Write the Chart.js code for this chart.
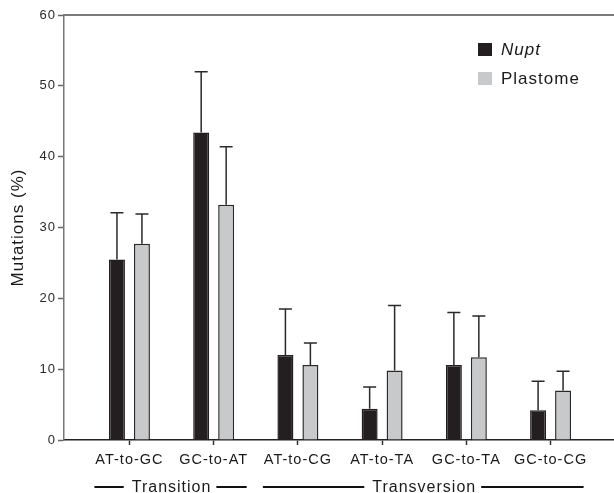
<!DOCTYPE html>
<html>
<head>
<meta charset="utf-8">
<script src="https://cdn.jsdelivr.net/npm/chart.js@4.4.1/dist/chart.umd.min.js"></script>
<style>
  html, body { margin: 0; padding: 0; background: #fff; }
</style>
</head>
<body>
<canvas id="mutationChart" width="614" height="493"></canvas>
<script>
const categories = ["AT-to-GC", "GC-to-AT", "AT-to-CG", "AT-to-TA", "GC-to-TA", "GC-to-CG"];
const nuptValues = [25.5, 43.4, 12.0, 4.4, 10.6, 4.2];
const nuptErrors = [6.6, 8.6, 6.5, 3.1, 7.4, 4.1];
const plastomeValues = [27.7, 33.2, 10.6, 9.8, 11.7, 7.0];
const plastomeErrors = [4.2, 8.2, 3.1, 9.2, 5.8, 2.7];
const yTicks = [0, 10, 20, 30, 40, 50, 60];
const groups = [
    { label: "Transition", from: 0, to: 1 },
    { label: "Transversion", from: 2, to: 5 },
];

const FONT = "'Liberation Sans', Arial, sans-serif";
const toPoints = (vals) => vals.map((v, i) => ({ x: i, y: v }));

// printed-figure text is slightly tracked out
const spacing = {
    id: "spacing",
    beforeDraw: (chart) => { chart.ctx.letterSpacing = "1px"; },
};

const topLine = {
    id: "topLine",
    beforeDatasetsDraw: (chart) => {
        const { ctx, chartArea } = chart;
        ctx.save();
        ctx.strokeStyle = "#7a7a7a";
        ctx.lineWidth = 2;
        ctx.beginPath();
        ctx.moveTo(chartArea.left, chartArea.top);
        ctx.lineTo(chart.width, chartArea.top);
        ctx.stroke();
        ctx.restore();
    },
};

const errorBars = {
    id: "errorBars",
    afterDatasetsDraw: (chart) => {
        const { ctx, scales: { y } } = chart;
        ctx.save();
        ctx.strokeStyle = "#2a2a2a";
        ctx.lineWidth = 1.5;
        chart.data.datasets.forEach((ds, i) => {
            chart.getDatasetMeta(i).data.forEach((bar, j) => {
                const top = y.getPixelForValue(ds.data[j].y + ds.errors[j]);
                ctx.beginPath();
                ctx.moveTo(bar.x, bar.y);
                ctx.lineTo(bar.x, top);
                ctx.moveTo(bar.x - 6.5, top);
                ctx.lineTo(bar.x + 6.5, top);
                ctx.stroke();
            });
        });
        ctx.restore();
    },
};

const extras = {
    id: "extras",
    afterDraw: (chart) => {
        const { ctx, chartArea, scales: { x } } = chart;
        ctx.save();
        // legend
        const lx = chartArea.left + 414;
        chart.data.datasets.forEach((ds, i) => {
            const ly = chartArea.top + 28 + i * 29;
            ctx.fillStyle = ds.backgroundColor;
            ctx.fillRect(lx, ly, 14, 13);
            ctx.fillStyle = "#1a1a1a";
            ctx.font = (i === 0 ? "italic " : "") + "17px " + FONT;
            ctx.textBaseline = "middle";
            ctx.textAlign = "left";
            ctx.fillText(ds.label, lx + 23, ly + 7.5);
        });
        // group labels under the axis
        const gy = chartArea.bottom + 47;
        ctx.font = "16px " + FONT;
        ctx.textAlign = "center";
        ctx.textBaseline = "middle";
        ctx.strokeStyle = "#111";
        ctx.lineWidth = 2;
        groups.forEach((g) => {
            const left = x.getPixelForValue(g.from) - 35;
            const right = x.getPixelForValue(g.to) + 33;
            const mid = (x.getPixelForValue(g.from) + x.getPixelForValue(g.to)) / 2;
            const w = ctx.measureText(g.label).width;
            ctx.fillStyle = "#1a1a1a";
            ctx.fillText(g.label, mid, gy + 1);
            ctx.beginPath();
            ctx.moveTo(left, gy);
            ctx.lineTo(mid - w / 2 - 8, gy);
            ctx.moveTo(mid + w / 2 + 5, gy);
            ctx.lineTo(right, gy);
            ctx.stroke();
        });
        ctx.restore();
    },
};

new Chart(document.getElementById("mutationChart"), {
    type: "bar",
    data: {
        datasets: [
            {
                label: "Nupt",
                data: toPoints(nuptValues),
                errors: nuptErrors,
                backgroundColor: "#231f20",
                borderColor: "#231f20",
                borderWidth: 1.5,
            },
            {
                label: "Plastome",
                data: toPoints(plastomeValues),
                errors: plastomeErrors,
                backgroundColor: "#c8c9cb",
                borderColor: "#2a2a2a",
                borderWidth: 1.5,
            },
        ],
    },
    options: {
        responsive: false,
        animation: false,
        devicePixelRatio: 1,
        categoryPercentage: 0.593,
        barPercentage: 0.64,
        layout: { padding: { top: 15, right: 0, left: 0, bottom: 0 } },
        plugins: {
            legend: { display: false },
            tooltip: { enabled: false },
        },
        scales: {
            x: {
                type: "linear",
                min: -0.777,
                max: 5.753,
                offset: false,
                afterBuildTicks: (scale) => {
                    scale.ticks = categories.map((_, i) => ({ value: i }));
                },
                afterFit: (scale) => { scale.height = 53; },
                ticks: {
                    callback: (value) => categories[value] ?? "",
                    color: "#1a1a1a",
                    font: { family: FONT, size: 14.5 },
                    padding: 6,
                    maxRotation: 0,
                    autoSkip: false,
                },
                grid: {
                    offset: false,
                    drawOnChartArea: false,
                    tickLength: 5,
                    color: "#333",
                    tickWidth: 1.5,
                },
                border: { color: "#222", width: 1.5 },
            },
            y: {
                min: 0,
                max: 60,
                afterBuildTicks: (scale) => {
                    scale.ticks = yTicks.map((v) => ({ value: v }));
                },
                afterFit: (scale) => { scale.width = 64; },
                ticks: {
                    color: "#2a2a2a",
                    font: { family: FONT, size: 13 },
                    padding: 2,
                },
                grid: {
                    drawOnChartArea: false,
                    tickLength: 6,
                    color: "#666",
                    tickWidth: 1.5,
                },
                border: { color: "#777", width: 1.5 },
                title: {
                    display: true,
                    text: "Mutations (%)",
                    color: "#1a1a1a",
                    font: { family: FONT, size: 17 },
                    padding: { top: 8, bottom: 0 },
                },
            },
        },
    },
    plugins: [spacing, topLine, errorBars, extras],
});
</script>
</body>
</html>
